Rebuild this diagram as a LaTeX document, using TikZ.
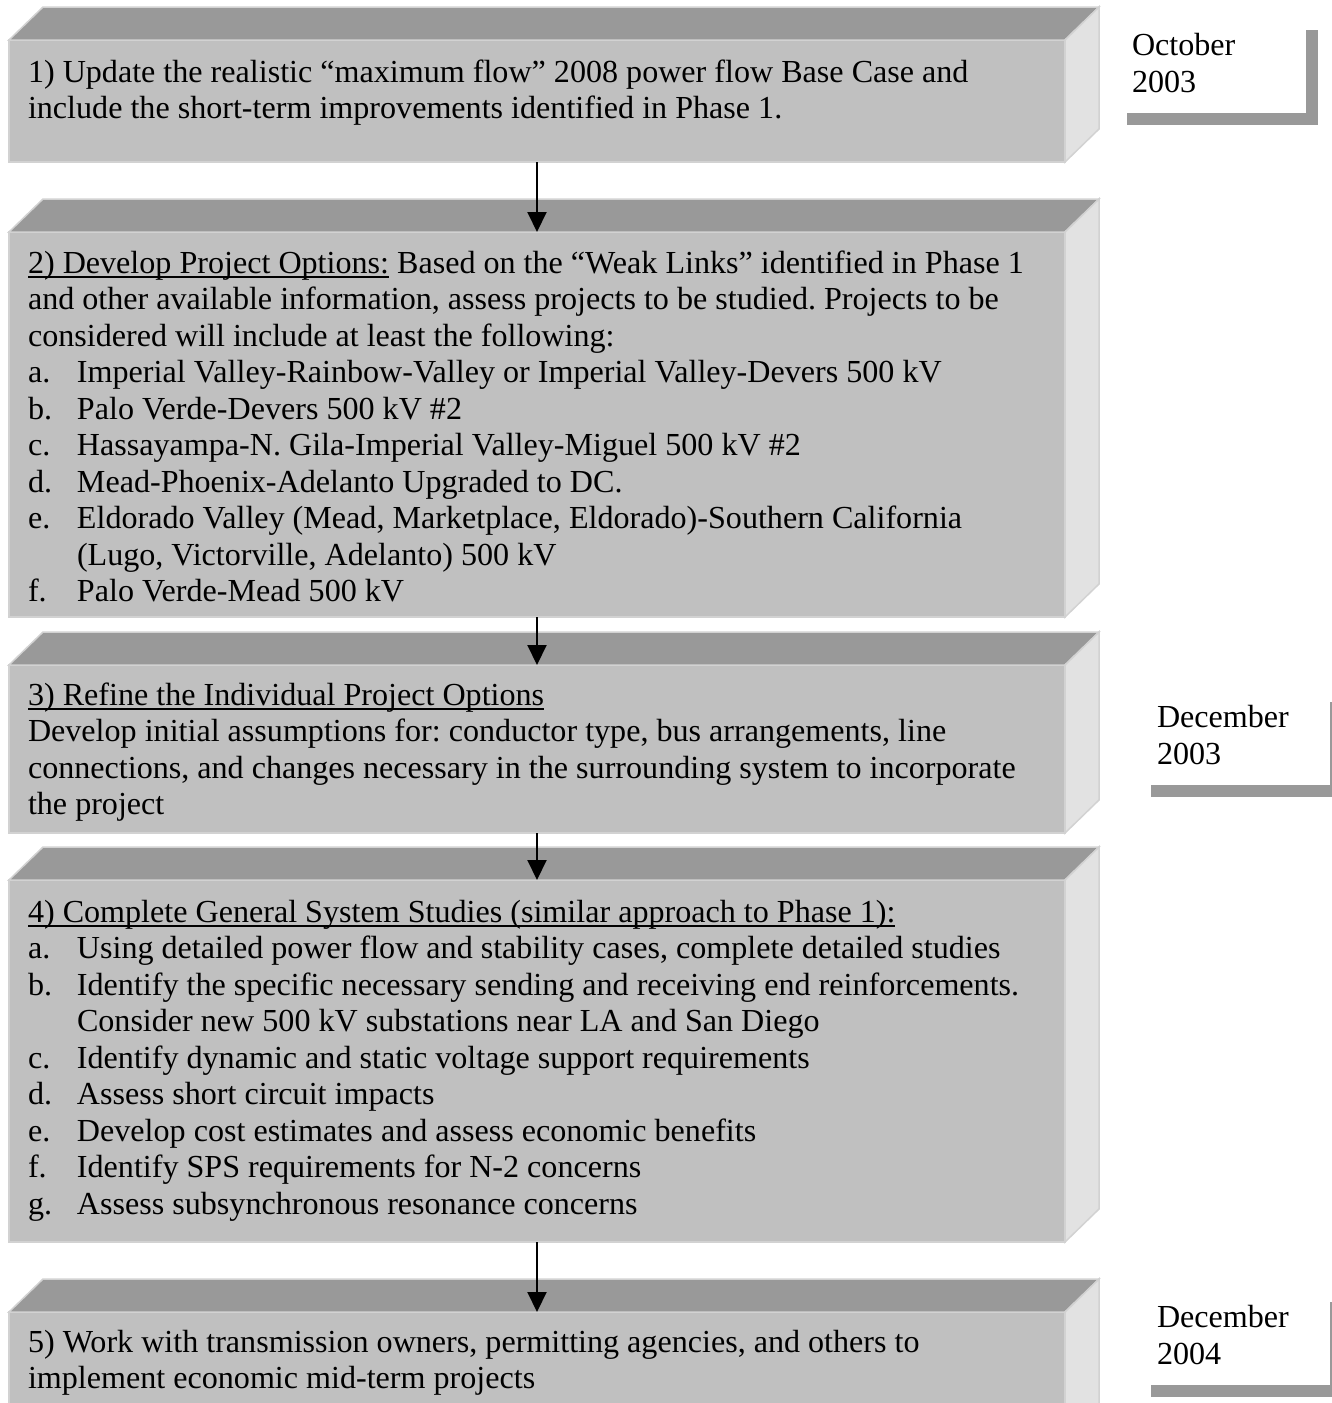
\documentclass[tikz,border=0pt]{standalone}
\usepackage{fontspec}
\setmainfont{Liberation Serif}
\usetikzlibrary{arrows.meta,backgrounds}
\frenchspacing
\definecolor{frontc}{RGB}{192,192,192}
\definecolor{topc}{RGB}{153,153,153}
\definecolor{sidec}{RGB}{226,226,226}
\definecolor{edgec}{RGB}{210,210,210}
\definecolor{shadc}{RGB}{153,153,153}
\newcommand\myul[1]{\leavevmode\setbox0\hbox{#1}\rlap{\rule[-4.5pt]{\wd0}{2pt}}\box0\relax}
\newcommand\itm[1]{\makebox[49pt][l]{#1}}
\newcommand\cont{\hspace*{49pt}}
\newcommand\bodytext[1]{\parbox[t]{1040pt}{\fontsize{32.1}{36.5}\selectfont\frenchspacing\raggedright #1}}
\newcommand\datetext[1]{\parbox[t]{180pt}{\fontsize{32.1}{37}\selectfont\raggedright #1}}
\newcommand\cubefaces[1]{%
  \draw[topface] (#1.north west) -- ([shift={(34,-33)}]#1.north west) -- ([shift={(34,-33)}]#1.north east) -- (#1.north east) -- cycle;
  \draw[sideface] (#1.north east) -- ([shift={(34,-33)}]#1.north east) -- ([shift={(34,-33)}]#1.south east) -- (#1.south east) -- cycle;}
\newcommand\dateshadow[1]{%
  \begin{pgfonlayer}{background}
  \fill[shadc] ([shift={(12,12)}]#1.south west) rectangle ([shift={(12,12)}]#1.north east);
  \end{pgfonlayer}}
\begin{document}
\begin{tikzpicture}[x=1pt,y=-1pt,
  front/.style={fill=frontc,draw=edgec,line width=1.5pt,inner sep=0pt,outer sep=0pt,anchor=north west,minimum width=1056pt},
  topface/.style={fill=topc,draw=edgec,line width=1.5pt},
  sideface/.style={fill=sidec,draw=edgec,line width=1.5pt},
  txt/.style={anchor=base west,inner sep=0pt,outer sep=0pt},
  arr/.style={line width=2pt,-{Triangle[width=19pt,length=20pt]}},
  datebox/.style={fill=white,inner sep=0pt,outer sep=0pt,anchor=north west,minimum width=191pt,minimum height=95pt}]
\useasboundingbox (0,0) rectangle (1332,1403);
\clip (0,0) rectangle (1332,1403);
\begin{pgfonlayer}{background}
\fill[white] (0,0) rectangle (1332,1403);
\end{pgfonlayer}

% boxes (front faces)
\node[front,minimum height=122pt] (b1) at (9,40) {};
\node[front,minimum height=385pt] (b2) at (9,232) {};
\node[front,minimum height=168pt] (b3) at (9,665) {};
\node[front,minimum height=362pt] (b4) at (9,880) {};
\node[front,minimum height=160pt] (b5) at (9,1312) {};
\cubefaces{b1}
\cubefaces{b2}
\cubefaces{b3}
\cubefaces{b4}
\cubefaces{b5}

% texts
\node[txt] (t1) at (28,82) {\bodytext{1) Update the realistic “maximum flow” 2008 power flow Base Case and\\
include the short-term improvements identified in Phase 1.}};
\node[txt] (t2) at (28,273) {\bodytext{\myul{2) Develop Project Options:} Based on the “Weak Links” identified in Phase 1\\
and other available information, assess projects to be studied. Projects to be\\
considered will include at least the following:\\
\itm{a.}Imperial Valley-Rainbow-Valley or Imperial Valley-Devers 500 kV\\
\itm{b.}Palo Verde-Devers 500 kV \#2\\
\itm{c.}Hassayampa-N. Gila-Imperial Valley-Miguel 500 kV \#2\\
\itm{d.}Mead-Phoenix-Adelanto Upgraded to DC.\\
\itm{e.}Eldorado Valley (Mead, Marketplace, Eldorado)-Southern California\\
\cont(Lugo, Victorville, Adelanto) 500 kV\\
\itm{f.}Palo Verde-Mead 500 kV}};
\node[txt] (t3) at (28,705) {\bodytext{\myul{3) Refine the Individual Project Options}\\
Develop initial assumptions for: conductor type, bus arrangements, line\\
connections, and changes necessary in the surrounding system to incorporate\\
the project}};
\node[txt] (t4) at (28,922) {\bodytext{\myul{4) Complete General System Studies (similar approach to Phase 1):}\\
\itm{a.}Using detailed power flow and stability cases, complete detailed studies\\
\itm{b.}Identify the specific necessary sending and receiving end reinforcements.\\
\cont Consider new 500 kV substations near LA and San Diego\\
\itm{c.}Identify dynamic and static voltage support requirements\\
\itm{d.}Assess short circuit impacts\\
\itm{e.}Develop cost estimates and assess economic benefits\\
\itm{f.}Identify SPS requirements for N-2 concerns\\
\itm{g.}Assess subsynchronous resonance concerns}};
\node[txt] (t5) at (28,1352) {\bodytext{5) Work with transmission owners, permitting agencies, and others to\\
implement economic mid-term projects}};

% connectors
\draw[arr] (b1.south) -- (b2.north);
\draw[arr] (b2.south) -- (b3.north);
\draw[arr] (b3.south) -- (b4.north);
\draw[arr] (b4.south) -- (b5.north);

% date boxes
\node[datebox] (d1) at (1115,18) {};
\node[datebox] (d2) at (1139,690) {};
\node[datebox] (d3) at (1139,1290) {};
\dateshadow{d1}
\dateshadow{d2}
\dateshadow{d3}
\node[txt] (dt1) at (1132,55) {\datetext{October\\2003}};
\node[txt] (dt2) at (1157,727) {\datetext{December\\2003}};
\node[txt] (dt3) at (1157,1327) {\datetext{December\\2004}};
\end{tikzpicture}
\end{document}
